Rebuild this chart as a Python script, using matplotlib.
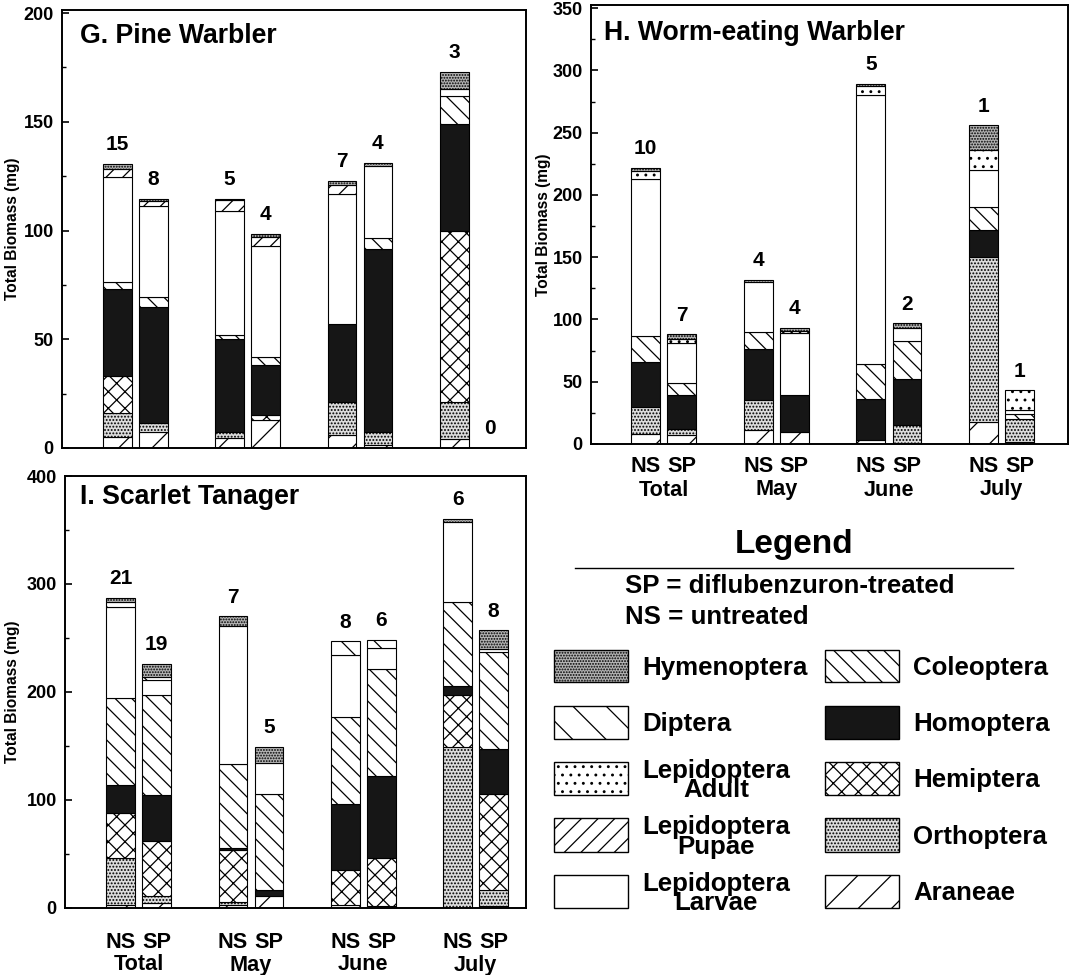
import matplotlib
matplotlib.use('Agg')
import matplotlib.pyplot as plt
from matplotlib.patches import Rectangle
from matplotlib.lines import Line2D
from matplotlib.transforms import blended_transform_factory
import numpy as np

plt.rcParams['font.family'] = ['Liberation Sans', 'DejaVu Sans']
plt.rcParams['font.weight'] = 'bold'
plt.rcParams['hatch.linewidth'] = 0.45
plt.rcParams['hatch.color'] = 'black'

# ---------------- data ----------------
taxa = ['Araneae', 'Orthoptera', 'Hemiptera', 'Homoptera', 'Coleoptera',
        'Lepidoptera Larvae', 'Lepidoptera Pupae', 'Lepidoptera Adult',
        'Diptera', 'Hymenoptera']
months = ['Total', 'May', 'June', 'July']
treatments = ['NS', 'SP']
# bar order: NS Total, SP Total, NS May, SP May, NS June, SP June, NS July, SP July

# G. Pine Warbler
pine_araneae     = [5, 7.5, 4.5, 13, 6, 1.5, 4, 0]
pine_orthoptera  = [11, 4, 3, 0, 15, 6, 17, 0]
pine_hemiptera   = [17, 0, 0, 2, 0, 0, 79, 0]
pine_homoptera   = [40, 53.5, 42.5, 23, 36, 84, 49, 0]
pine_coleoptera  = [3.5, 4.5, 2, 4, 0, 5, 13, 0]
pine_larvae      = [48, 42, 57, 51, 60, 33, 3, 0]
pine_pupae       = [4, 2, 5, 4, 4, 0, 0, 0]
pine_adult       = [0, 0, 0, 0, 0, 0, 0, 0]
pine_diptera     = [0, 0, 0, 0, 0, 0, 0, 0]
pine_hymenoptera = [2, 1, 0.5, 1.5, 2, 1.5, 8, 0]
pine_n           = [15, 8, 5, 4, 7, 4, 3, 0]

# H. Worm-eating Warbler
worm_araneae     = [8, 7, 11, 10, 3, 1, 18, 1.5]
worm_orthoptera  = [22, 5, 24, 0, 0, 14, 132, 18.5]
worm_hemiptera   = [0, 0, 0, 0, 0, 0, 0, 0]
worm_homoptera   = [36, 27, 41, 29, 33, 37, 22, 0]
worm_coleoptera  = [21, 10, 14, 0, 28, 31, 18, 4]
worm_larvae      = [126, 32, 40, 50, 216, 10, 30, 3]
worm_pupae       = [0, 0, 0, 0, 0, 0, 0, 0]
worm_adult       = [6.5, 3, 0, 2, 7.5, 0, 16, 16]
worm_diptera     = [0, 0, 0, 0, 0, 0, 0, 0]
worm_hymenoptera = [2.5, 4, 2, 2, 2, 4, 20, 0]
worm_n           = [10, 7, 4, 4, 5, 2, 1, 1]

# I. Scarlet Tanager
tan_araneae     = [3, 5, 3, 11, 3, 1.5, 0, 2]
tan_orthoptera  = [43, 6, 3, 0, 0, 0, 149, 15]
tan_hemiptera   = [42, 51, 48, 0, 32, 44.5, 48, 89]
tan_homoptera   = [26, 43, 2, 6, 61, 76, 9, 41]
tan_coleoptera  = [80, 92, 77, 89, 81, 99, 77, 90]
tan_larvae      = [85, 14, 128, 28, 57, 20, 74, 3]
tan_pupae       = [0, 0, 0, 0, 0, 0, 0, 0]
tan_adult       = [0, 0, 0, 0, 0, 0, 0, 0]
tan_diptera     = [4, 3, 0, 0, 13, 7.5, 0, 0]
tan_hymenoptera = [4, 12, 9, 15, 0, 0, 3, 17]
tan_n           = [21, 19, 7, 5, 8, 6, 6, 8]

pine = [pine_araneae, pine_orthoptera, pine_hemiptera, pine_homoptera, pine_coleoptera,
        pine_larvae, pine_pupae, pine_adult, pine_diptera, pine_hymenoptera]
worm = [worm_araneae, worm_orthoptera, worm_hemiptera, worm_homoptera, worm_coleoptera,
        worm_larvae, worm_pupae, worm_adult, worm_diptera, worm_hymenoptera]
tan = [tan_araneae, tan_orthoptera, tan_hemiptera, tan_homoptera, tan_coleoptera,
       tan_larvae, tan_pupae, tan_adult, tan_diptera, tan_hymenoptera]

# ---------------- styles ----------------
styles = {
    'Araneae':            dict(face='white',   hatch='//'),
    'Orthoptera':         dict(face='#dcdcdc', hatch='..........'),
    'Hemiptera':          dict(face='white',   hatch='xxxx'),
    'Homoptera':          dict(face='#161616', hatch=None),
    'Coleoptera':         dict(face='white',   hatch='\\\\\\\\'),
    'Lepidoptera Larvae': dict(face='white',   hatch=None),
    'Lepidoptera Pupae':  dict(face='white',   hatch='////'),
    'Lepidoptera Adult':  dict(face='white',   hatch='....'),
    'Diptera':            dict(face='white',   hatch='\\\\'),
    'Hymenoptera':        dict(face='#b4b4b4', hatch='............'),
}

DPI = 200
W, H = 1080, 975
fig = plt.figure(figsize=(W / DPI, H / DPI), dpi=DPI)

def rect_px(x0, y0, x1, y1):
    return [x0 / W, 1 - y1 / H, (x1 - x0) / W, (y1 - y0) / H]

OFF = 0.16
BW = 0.255
xpos = []
for g in range(len(months)):
    xpos += [g - OFF, g + OFF]
xpos = np.array(xpos)

def draw_panel(r, data, counts, xlim, ylim, major, minor, title, title_xy, ylab_x,
               xlab_y=None):
    ax = fig.add_axes(r)
    bottoms = np.zeros(len(xpos))
    for taxon, vals in zip(taxa, data):
        vals = np.array(vals, float)
        st = styles[taxon]
        m = vals > 0
        if m.any():
            ax.bar(xpos[m], vals[m], width=BW, bottom=bottoms[m], color=st['face'],
                   edgecolor='black', hatch=st['hatch'], linewidth=0.4, zorder=2)
        bottoms += vals
    for x, tot, n in zip(xpos, bottoms, counts):
        ax.annotate(str(n), (x, tot), xytext=(0, 3.5), textcoords='offset points',
                    ha='center', va='bottom', fontsize=7.5, fontweight='bold')
    ax.set_xlim(*xlim)
    ax.set_ylim(*ylim)
    ax.set_yticks(np.arange(0, ylim[1] + 0.1, major))
    ax.set_yticks(np.arange(0, ylim[1] + 0.1, minor), minor=True)
    ax.tick_params(axis='y', which='major', direction='in', length=2.6, width=0.6,
                   labelsize=6.5, pad=3)
    ax.tick_params(axis='y', which='minor', direction='in', length=1.5, width=0.5)
    ax.tick_params(axis='x', bottom=False, labelbottom=False)
    for s in ax.spines.values():
        s.set_linewidth(0.7)
    ax.set_ylabel('Total Biomass (mg)', fontsize=5.6, fontweight='bold')
    ax.yaxis.set_label_coords(ylab_x, 0.5)
    fig.text(title_xy[0] / W, 1 - title_xy[1] / H, title, fontsize=9.6,
             fontweight='bold', ha='left', va='center')
    if xlab_y is not None:
        tr = blended_transform_factory(ax.transData, fig.transFigure)
        for g, mname in enumerate(months):
            for k, t in enumerate(treatments):
                ax.text(xpos[2 * g + k], 1 - xlab_y[0] / H, t, transform=tr,
                        ha='center', va='center', fontsize=7.8, fontweight='bold')
            ax.text(g, 1 - xlab_y[1] / H, mname, transform=tr, ha='center',
                    va='center', fontsize=7.8, fontweight='bold')
    return ax

# G panel
draw_panel(rect_px(62, 10, 526, 448), pine, pine_n, (-0.653, 3.479), (0, 201.4), 50, 25,
           'G. Pine Warbler', (80, 36), -0.09)
# H panel
draw_panel(rect_px(591, 5, 1068, 444), worm, worm_n, (-0.643, 3.589), (0, 352.6), 50, 25,
           'H. Worm-eating Warbler', (604, 33), -0.084, xlab_y=(467, 490))
# I panel
draw_panel(rect_px(65, 476, 526, 908), tan, tan_n, (-0.657, 3.448), (0, 400), 100, 50,
           'I. Scarlet Tanager', (80, 497), -0.097, xlab_y=(943, 965))

# ---------------- legend ----------------
fig.text(794 / W, 1 - 545 / H, 'Legend', fontsize=12, fontweight='bold',
         ha='center', va='center')
fig.add_artist(Line2D([575 / W, 1013 / W], [1 - 568 / H, 1 - 568 / H],
                      transform=fig.transFigure, color='black', lw=0.5))
fig.text(625 / W, 1 - 586 / H, 'SP = diflubenzuron-treated', fontsize=9.3,
         fontweight='bold', ha='left', va='center')
fig.text(625 / W, 1 - 617 / H, 'NS = untreated', fontsize=9.3,
         fontweight='bold', ha='left', va='center')

rows = [(650, 682), (706, 739), (762, 795), (818, 852), (875, 908)]
left_col = ['Hymenoptera', 'Diptera', 'Lepidoptera Adult', 'Lepidoptera Pupae',
            'Lepidoptera Larvae']
right_col = ['Coleoptera', 'Homoptera', 'Hemiptera', 'Orthoptera', 'Araneae']
for col, (bx0, bx1, tx) in zip([left_col, right_col], [(554, 628, 642), (825, 899, 913)]):
    for taxon, (y0, y1) in zip(col, rows):
        st = styles[taxon]
        fig.add_artist(Rectangle((bx0 / W, 1 - y1 / H), (bx1 - bx0) / W, (y1 - y0) / H,
                                 transform=fig.transFigure, facecolor=st['face'],
                                 edgecolor='black', hatch=st['hatch'], lw=0.5))
        label = taxon.replace('Lepidoptera ', 'Lepidoptera\n')
        fig.text(tx / W, 1 - ((y0 + y1) / 2 + 2) / H, label, fontsize=9.3,
                 fontweight='bold', ha='left', va='center', multialignment='center',
                 linespacing=0.78)

fig.savefig('out.png', dpi=DPI)
